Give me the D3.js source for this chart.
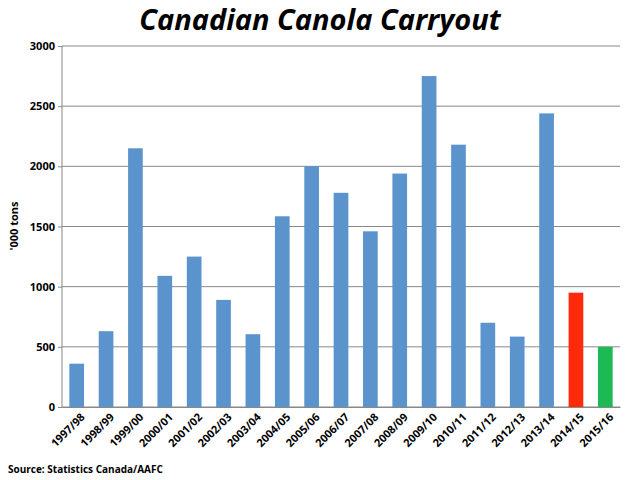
<!DOCTYPE html>
<html><head><meta charset="utf-8">
<script src="https://cdn.jsdelivr.net/npm/d3@7"></script>
<style>body{margin:0;background:#fff}</style></head>
<body><svg id="c" width="640" height="480"></svg>
<script>
const categories=["1997/98","1998/99","1999/00","2000/01","2001/02","2002/03","2003/04","2004/05","2005/06","2006/07","2007/08","2008/09","2009/10","2010/11","2011/12","2012/13","2013/14","2014/15","2015/16"];
const values=[360,630,2150,1090,1250,890,605,1585,2000,1780,1460,1940,2750,2180,700,585,2440,950,500];
const colors=categories.map((c,i)=>i===17?"#ff2a0a":i===18?"#1db954":"#5b93cc");
const yTicks=[0,500,1000,1500,2000,2500,3000];
const svg=d3.select("#c");
const m={l:62,r:620,t:46,b:407};
const x=d3.scaleBand().domain(categories).range([m.l,m.r]).paddingInner(0.5).paddingOuter(0.25);
const y=d3.scaleLinear().domain([0,3000]).range([m.b,m.t]);
svg.append("g").selectAll("line").data(yTicks).join("line")
 .attr("x1",m.l).attr("x2",m.r).attr("y1",d=>y(d)).attr("y2",d=>y(d))
 .attr("stroke",d=>d===0?"#888":"#888").attr("stroke-width",1);
svg.append("line").attr("x1",m.l).attr("x2",m.l).attr("y1",m.t).attr("y2",m.b).attr("stroke","#888");
svg.append("g").selectAll("rect").data(values).join("rect")
 .attr("x",(d,i)=>x(categories[i])).attr("width",x.bandwidth())
 .attr("y",d=>y(d)).attr("height",d=>y(0)-y(d)).attr("fill",(d,i)=>colors[i]);
const ya=svg.append("g").attr("transform",`translate(${m.l},0)`)
 .call(d3.axisLeft(y).tickValues(yTicks).tickSize(4).tickFormat(d3.format("d")));
ya.select(".domain").remove();
ya.selectAll("text").attr("font-family","Open Sans, Arial").attr("font-weight","bold").attr("font-size",11).attr("fill","#000");
ya.selectAll("line").attr("stroke","#888");
const xa=svg.append("g").attr("transform",`translate(0,${m.b})`).call(d3.axisBottom(x).tickSize(0));
xa.select(".domain").attr("stroke","#888");
xa.selectAll("text").attr("font-family","Open Sans, Arial").attr("font-weight","bold").attr("font-size",11).attr("fill","#000")
 .attr("text-anchor","end").attr("transform","translate(4,6) rotate(-45)").attr("dy","0.35em").attr("dx","0");
svg.append("text").attr("x",320).attr("y",30).attr("text-anchor","middle")
 .attr("font-family","Open Sans, Arial").attr("font-weight","bold").attr("font-style","italic").attr("font-size",29).text("Canadian Canola Carryout");
svg.append("text").attr("transform","translate(18,226) rotate(-90)").attr("text-anchor","middle")
 .attr("font-family","Open Sans, Arial").attr("font-weight","bold").attr("font-size",11).text("'000 tons");
svg.append("text").attr("x",8).attr("y",473).attr("font-family","Open Sans, Arial").attr("font-weight","bold").attr("font-size",10).text("Source: Statistics Canada/AAFC");
</script></body></html>
